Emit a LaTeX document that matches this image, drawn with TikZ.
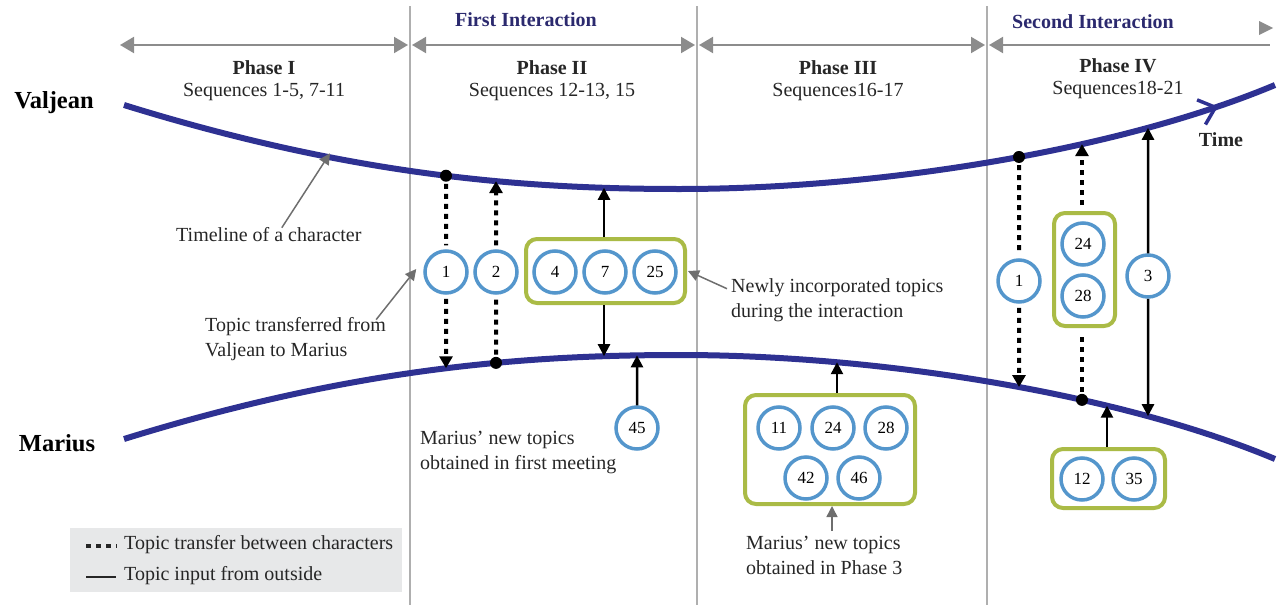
\documentclass[tikz,border=0pt]{standalone}
\usepackage{fontspec}
\setmainfont{Liberation Serif}
\usetikzlibrary{arrows.meta,decorations.markings,intersections}
\definecolor{tl}{RGB}{46,49,146}
\definecolor{navy}{RGB}{43,41,110}
\definecolor{cb}{RGB}{84,150,204}
\definecolor{gb}{RGB}{170,187,70}
\definecolor{gr}{RGB}{110,110,110}
\definecolor{phgr}{RGB}{140,140,140}
\definecolor{vl}{RGB}{175,175,175}
\definecolor{lg}{RGB}{231,232,233}
\newcommand{\mkpt}[3]{%
  \path[name path=tmp#3] (#2,0) -- (#2,605);
  \path[name intersections={of=#1 and tmp#3, by=#3}];}
\begin{document}
\begin{tikzpicture}[x=1pt,y=-1pt,
  txt/.style={font=\fontsize{20}{25}\selectfont, inner sep=0pt, align=left, text=black!85},
  hdr/.style={font=\fontsize{20}{22}\selectfont, inner sep=0pt, align=center, text=black!85},
  who/.style={font=\fontsize{24.5}{26}\selectfont\bfseries, inner sep=0pt},
  inter/.style={font=\fontsize{20}{22}\selectfont\bfseries, inner sep=0pt, text=navy},
  topic/.style={circle, draw=cb, line width=3.5pt, minimum size=42pt, inner sep=0pt, fill=white, font=\fontsize{17}{17}\selectfont},
  grp/.style={draw=gb, line width=4pt, rounded corners=11pt, fill=white, inner sep=0pt},
  dot/.style={circle, fill=black, minimum size=12pt, inner sep=0pt},
  xline/.style={line width=4pt, dash pattern=on 5pt off 5pt},
  xfer/.style={xline, -{Triangle[length=12pt,width=13pt]}},
  inp/.style={line width=2.5pt, -{Triangle[length=12pt,width=12pt]}},
  note/.style={draw=gr, line width=1.5pt, -{Triangle[length=11pt,width=11pt]}, color=gr},
  phase/.style={draw=phgr, line width=2pt, {Triangle[length=14pt,width=16pt]}-{Triangle[length=14pt,width=16pt]}, color=phgr},
  timeline/.style={draw=tl, line width=6pt}
]
\useasboundingbox (0,0) rectangle (1282,605);

% vertical separators
\draw[vl, line width=1.3pt] (410,6) -- (410,605);
\draw[vl, line width=1.3pt] (697,6) -- (697,605);
\draw[vl, line width=1.3pt] (987,6) -- (987,605);

% phase arrows
\coordinate (p0) at (120,45);
\coordinate (p1l) at (408,45);
\coordinate (p1r) at (412,45);
\coordinate (p2l) at (695,45);
\coordinate (p2r) at (699,45);
\coordinate (p3l) at (985,45);
\coordinate (p3r) at (989,45);
\coordinate (p4) at (1270,45);
\draw[phase] (p0) -- (p1l);
\draw[phase] (p1r) -- (p2l);
\draw[phase] (p2r) -- (p3l);
\draw[phgr, line width=2pt, {Triangle[length=14pt,width=16pt]}-] (p3r) -- (p4);
\fill[phgr] (1259,21) -- (1273,28) -- (1259,35) -- cycle;

% headers
\node[inter] (fi) at (526,20) {First Interaction};
\node[inter] (si) at (1093,22) {Second Interaction};
\node[hdr] (ph1) at (264,81) {\textbf{Phase I}\\Sequences 1-5, 7-11};
\node[hdr] (ph2) at (552,81) {\textbf{Phase II}\\Sequences 12-13, 15};
\node[hdr] (ph3) at (838,81) {\textbf{Phase III}\\Sequences16-17};
\node[hdr] (ph4) at (1118,79) {\textbf{Phase IV}\\Sequences18-21};

\node[who] (val) at (54,103) {Valjean};
\node[who] (mar) at (57,443) {Marius};
\node[inter, text=black!85] (time) at (1221,140) {Time};

% timelines
\draw[timeline, name path=V,
  postaction={decorate, decoration={markings, mark=at position 0.948 with {\arrow[tl, line width=3.5pt]{Straight Barb[length=15pt,width=26pt]}}}}]
  (124,105) .. controls (350,175) and (520,189) .. (680,189)
  .. controls (880,189) and (1120,150) .. (1275,85);
\draw[timeline, name path=M]
  (124,439) .. controls (350,369) and (520,355) .. (680,355)
  .. controls (880,355) and (1120,394) .. (1275,459);

% points on timelines
\mkpt{V}{446}{v446}
\mkpt{V}{496}{v496}
\mkpt{V}{604}{v604}
\mkpt{V}{1019}{v1019}
\mkpt{V}{1082}{v1082}
\mkpt{V}{1148}{v1148}
\mkpt{V}{330}{v330}
\mkpt{M}{446}{m446}
\mkpt{M}{496}{m496}
\mkpt{M}{604}{m604}
\mkpt{M}{637}{m637}
\mkpt{M}{837}{m837}
\mkpt{M}{1019}{m1019}
\mkpt{M}{1082}{m1082}
\mkpt{M}{1107}{m1107}
\mkpt{M}{1148}{m1148}

% ---------- Phase II ----------
\node[topic] (c1) at (446,272) {1};
\node[topic] (c2) at (496,272) {2};
\node[grp, minimum width=159pt, minimum height=64pt] (box1) at (605.5,271) {};
\node[topic] (c4) at (555,272) {4};
\node[topic] (c7) at (605,272) {7};
\node[topic] (c25) at (655,272) {25};
\node[dot] (d1) at (v446) {};
\node[dot] (d2) at (m496) {};
\draw[xline, shorten <=2pt, shorten >=4pt] (d1) -- (c1);
\draw[xfer, shorten <=4pt] (c1) -- (m446);
\draw[xline, shorten <=2pt, shorten >=4pt] (d2) -- (c2);
\draw[xfer, shorten <=4pt] (c2) -- (v496);
\draw[inp] (box1.north -| v604) -- (v604);
\draw[inp] (box1.south -| m604) -- (m604);
\node[topic] (c45) at (637,428) {45};
\draw[inp] (c45) -- (m637);

% ---------- Phase III ----------
\node[grp, minimum width=170pt, minimum height=109pt] (box2) at (830,449.5) {};
\node[topic] (c11) at (779,428) {11};
\node[topic] (c24a) at (833,428) {24};
\node[topic] (c28a) at (886,428) {28};
\node[topic] (c42) at (806,478) {42};
\node[topic] (c46) at (859,478) {46};
\draw[inp] (box2.north -| m837) -- (m837);

% ---------- Phase IV ----------
\node[topic] (c1b) at (1019,281) {1};
\node[grp, minimum width=61pt, minimum height=113pt] (box3) at (1084.5,269.5) {};
\node[topic] (c24b) at (1083,244) {24};
\node[topic] (c28b) at (1083,296) {28};
\node[topic] (c3) at (1148,276) {3};
\node[dot] (d3) at (v1019) {};
\node[dot] (d4) at (m1082) {};
\draw[xline, shorten <=2pt, shorten >=4pt] (d3) -- (c1b);
\draw[xfer, shorten <=4pt] (c1b) -- (m1019);
\draw[xline, shorten <=2pt, shorten >=6pt] (d4) -- (box3.south -| d4);
\draw[xfer, shorten <=6pt] (box3.north -| d4) -- (v1082);
\draw[inp] (c3) -- (v1148);
\draw[inp] (c3) -- (m1148);
\node[grp, minimum width=113pt, minimum height=59pt] (box4) at (1108.5,478.5) {};
\node[topic] (c12) at (1082,479) {12};
\node[topic] (c35) at (1134,479) {35};
\draw[inp] (box4.north -| m1107) -- (m1107);

% ---------- annotations ----------
\node[txt, anchor=west] (tl1) at (176,235) {Timeline of a character};
\draw[note] ([xshift=13pt]tl1.north) -- ([yshift=4pt]v330);
\node[txt, anchor=west] (tt) at (205,339.5) {Topic transferred from\\Valjean to Marius};
\draw[note] ([xshift=-10pt,yshift=-2pt]tt.north east) -- ([xshift=-7pt,yshift=3pt]c1.west);
\node[txt, anchor=west] (ni) at (731,300.5) {Newly incorporated topics\\during the interaction};
\draw[note] ([xshift=-4pt,yshift=-10pt]ni.north west) -- ([xshift=1pt]box1.east);
\node[txt, anchor=west] (mn1) at (420,452.5) {Marius’ new topics\\obtained in first meeting};
\node[txt, anchor=west] (mn3) at (746,555.5) {Marius’ new topics\\obtained in Phase 3};
\coordinate (mn3a) at (832,531);
\draw[note] (mn3a) -- (box2.south -| mn3a);

% ---------- legend ----------
\node[fill=lg, minimum width=332pt, minimum height=64pt, inner sep=0pt] (leg) at (236,560) {};
\coordinate (ls1) at (86,546);
\coordinate (le1) at (117,546);
\coordinate (ls2) at (86,577);
\coordinate (le2) at (116,577);
\draw[line width=4pt, dash pattern=on 5pt off 5pt, black!85] (ls1) -- (le1);
\draw[line width=2pt, black!85] (ls2) -- (le2);
\node[txt, anchor=west] (lt1) at (124,545) {Topic transfer between characters};
\node[txt, anchor=west] (lt2) at (124,576) {Topic input from outside};
\end{tikzpicture}
\end{document}
